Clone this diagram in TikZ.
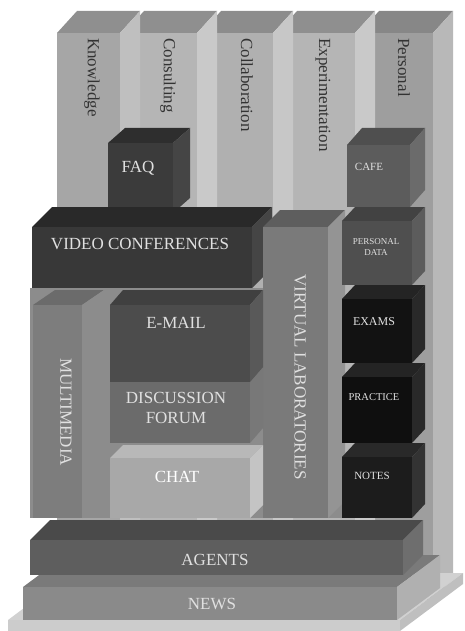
\documentclass[tikz,border=0pt]{standalone}
\usepackage{fontspec}
\setmainfont{Liberation Serif}
\usepackage{tikz}

\newcommand{\gbox}[9]{%
	\fill [#8] (#1, #2) -- ++(#3, 0) -- ++(#5, -#6) -- ++(-#3, 0) -- cycle;
	\fill [#9] (#1 + #3, #2) -- ++(#5, -#6) -- ++(0, #4) -- ++(-#5, #6) -- cycle;
	\fill [#7] (#1, #2) rectangle ++(#3, #4);
}

\begin{document}
\begin{tikzpicture}[x=1pt, y=-1pt,
	lbl/.style={inner sep=0, text=black!12, font=\fontsize{17}{20}\selectfont},
	smlbl/.style={inner sep=0, text=black!12, font=\fontsize{11}{13}\selectfont},
	collbl/.style={rotate=-90, anchor=west, inner sep=0, text=black!80, font=\fontsize{17}{17}\selectfont}]
	\useasboundingbox (0, 0) rectangle (464, 631);
	\gbox{359}{33}{74}{567}{20}{22}{black!38}{black!47}{black!28}
	\gbox{277}{33}{78}{567}{20}{22}{black!29}{black!44}{black!21}
	\gbox{201}{33}{72}{567}{20}{22}{black!31}{black!45}{black!22}
	\gbox{124}{33}{73}{567}{20}{22}{black!29}{black!44}{black!21}
	\gbox{57}{33}{63}{567}{20}{22}{black!35}{black!44}{black!25}
	\gbox{347}{145}{63}{62}{15}{17}{black!64}{black!69}{black!58}
	\gbox{108}{143}{65}{70}{17}{15}{black!77}{black!82}{black!73}
	\gbox{32}{227}{220}{61}{20}{20}{black!78}{black!84}{black!73}
	\fill [black!45] (30, 288) rectangle (345, 518);
	\gbox{263}{227}{65}{291}{17}{17}{black!52}{black!63}{black!42}
	\gbox{342}{221}{70}{64}{13}{14}{black!69}{black!74}{black!64}
	\gbox{342}{299}{70}{64}{13}{14}{black!93}{black!86}{black!84}
	\gbox{342}{377}{70}{66}{13}{14}{black!94}{black!86}{black!84}
	\gbox{342}{457}{70}{61}{13}{14}{black!89}{black!84}{black!80}
	\gbox{33}{305}{49}{213}{22}{15}{black!51}{black!58}{black!45}
	\gbox{110}{382}{140}{61}{13}{15}{black!58}{black!62}{black!53}
	\gbox{110}{305}{140}{77}{13}{15}{black!70}{black!75}{black!65}
	\gbox{110}{458}{140}{60}{13}{13}{black!34}{black!28}{black!23}
	\gbox{8}{620}{392}{11}{63}{47}{black!20}{black!18}{black!25}
	\gbox{23}{587}{374}{33}{43}{32}{black!46}{black!52}{black!31}
	\gbox{30}{540}{373}{35}{20}{20}{black!63}{black!71}{black!57}
	\node (knw) at (92, 38) [collbl] {Knowledge};
	\node (cons) at (168, 38) [collbl] {Consulting};
	\node (coll) at (247, 38) [collbl] {Collaboration};
	\node (expm) at (323, 38) [collbl] {Experimentation};
	\node (pers) at (404, 38) [collbl] {Personal};
	\node (faq) at (138, 168) [lbl] {FAQ};
	\node (cafe) at (369, 167) [smlbl] {CAFE};
	\node (vconf) at (140, 244) [lbl] {VIDEO CONFERENCES};
	\node (pdata) at (376, 247) [smlbl, align=center, font=\fontsize{9}{11}\selectfont] {PERSONAL\\DATA};
	\node (exams) at (374, 322) [smlbl, font=\fontsize{12}{12}\selectfont] {EXAMS};
	\node (pract) at (374, 397) [smlbl, font=\fontsize{10.5}{12}\selectfont] {PRACTICE};
	\node (notes) at (372, 476) [smlbl] {NOTES};
	\node (vlab) at (300, 377) [lbl, rotate=-90] {VIRTUAL LABORATORIES};
	\node (mmed) at (66, 412) [lbl, rotate=-90] {MULTIMEDIA};
	\node (email) at (176, 323) [lbl] {E-MAIL};
	\node (forum) at (176, 408) [lbl, align=center] {DISCUSSION\\FORUM};
	\node (chat) at (177, 477) [lbl, text=white] {CHAT};
	\node (agents) at (215, 560) [lbl] {AGENTS};
	\node (news) at (212, 604) [lbl] {NEWS};
\end{tikzpicture}
\end{document}
